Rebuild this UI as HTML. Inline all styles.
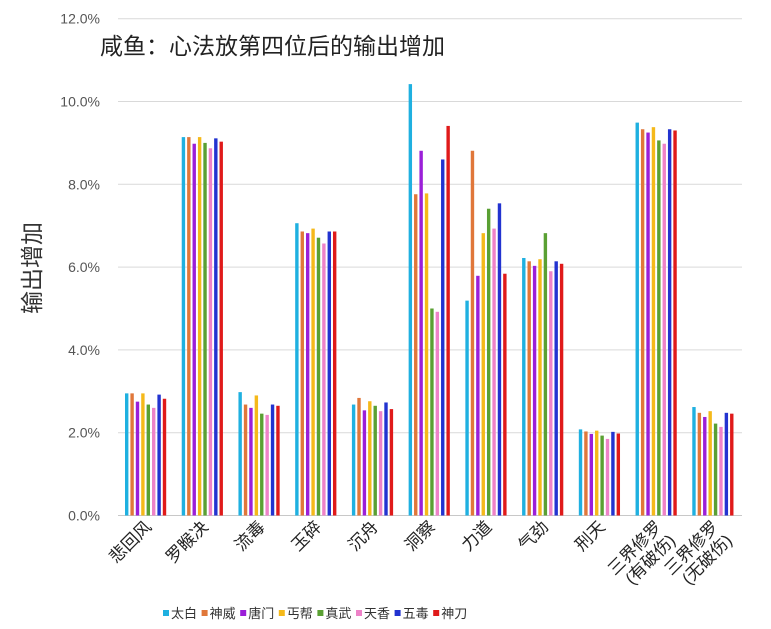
<!DOCTYPE html>
<html><head><meta charset="utf-8"><style>
html,body{margin:0;padding:0;background:#fff;width:771px;height:629px;overflow:hidden}
svg{display:block;font-family:"Liberation Sans","Noto Sans CJK SC",sans-serif}
</style></head><body>
<svg id="chart" width="771" height="629">
<text x="100" y="54" font-size="23" fill="#222">咸鱼：心法放第四位后的输出增加</text>
<text transform="translate(40,268) rotate(-90)" text-anchor="middle" font-size="23" fill="#333">输出增加</text>
<g id="grid"></g><g id="bars"></g><g id="xlabels"></g><g id="legend"></g>
</svg>
<script>
const categories=["悲回风","罗睺决","流毒","玉碎","沉舟","洞察","力道","气劲","刑天","三界修罗|(有破伤)","三界修罗|(无破伤)"];
const seriesNames=["太白","神威","唐门","丐帮","真武","天香","五毒","神刀"];
const seriesColors=["#1fb0e0","#e0773a","#9b1fd8","#f5b91a","#5aa033","#ee82c8","#2233d0","#e01a1a"];
const yTicks=[0,2,4,6,8,10,12];
const sTaibai=[2.95,9.14,2.98,7.06,2.68,10.42,5.19,6.22,2.08,9.49,2.62];
const sShenwei=[2.95,9.14,2.68,6.86,2.84,7.76,8.81,6.14,2.03,9.33,2.48];
const sTangmen=[2.75,8.98,2.6,6.82,2.54,8.81,5.79,6.03,1.97,9.25,2.38];
const sGaibang=[2.95,9.14,2.9,6.93,2.76,7.78,6.82,6.19,2.05,9.38,2.52];
const sZhenwu=[2.68,9.0,2.46,6.71,2.65,5.0,7.41,6.82,1.93,9.06,2.22];
const sTianxiang=[2.6,8.87,2.43,6.57,2.52,4.92,6.93,5.9,1.85,8.98,2.14];
const sWudu=[2.92,9.11,2.68,6.86,2.73,8.6,7.54,6.14,2.02,9.33,2.48];
const sShendao=[2.82,9.03,2.65,6.86,2.57,9.41,5.84,6.08,1.98,9.3,2.46];
const series=[sTaibai,sShenwei,sTangmen,sGaibang,sZhenwu,sTianxiang,sWudu,sShendao];
const NS="http://www.w3.org/2000/svg";
const L=118,R=742,Y0=515.5,PPU=41.4;
const bw=(R-L)/categories.length;
const y=v=>Y0-v*PPU;
const xb=(c,s)=>L+c*bw+7+s*5.4;
function mk(t,a,p){const e=document.createElementNS(NS,t);for(const k in a)e.setAttribute(k,a[k]);p.appendChild(e);return e;}
const grid=document.getElementById('grid');
yTicks.forEach(t=>{
 const l=mk('line',{x1:L,x2:R,y1:y(t),y2:y(t),stroke:t===0?'#c8c8c8':'#d9d9d9','stroke-width':1},grid);
 
 
 const tx=mk('text',{x:100,y:y(t)+5,'text-anchor':'end','font-size':14,fill:'#555'},grid);
 tx.textContent=t.toFixed(1)+'%';
 
 
});
const bars=document.getElementById('bars');
series.forEach((arr,s)=>arr.forEach((v,c)=>{
 const r=mk('rect',{x:xb(c,s),y:y(v),width:3.4,height:v*PPU,fill:seriesColors[s]},bars);
 
 
}));
const xl=document.getElementById('xlabels');
categories.forEach((c,i)=>{
 const cx=L+(i+0.5)*bw+6;
 const g=mk('g',{transform:`translate(${cx},528) rotate(-45)`},xl);
 
 
 const parts=c.split('|');
 parts.forEach((p,j)=>{
  const t=mk('text',{x:0,y:j*19,'text-anchor':'end','font-size':17,fill:'#222'},g);
  t.textContent=p;
 });
});
const lg=document.getElementById('legend');
seriesNames.forEach((n,i)=>{
 const x0=163+i*38.6;
 const g=mk('g',{},lg);
 
 
 mk('rect',{x:x0,y:610,width:6,height:6,fill:seriesColors[i]},g);
 const t=mk('text',{x:x0+8,y:618,'font-size':13,fill:'#333'},g);
 t.textContent=n;
});
</script>
</body></html>
